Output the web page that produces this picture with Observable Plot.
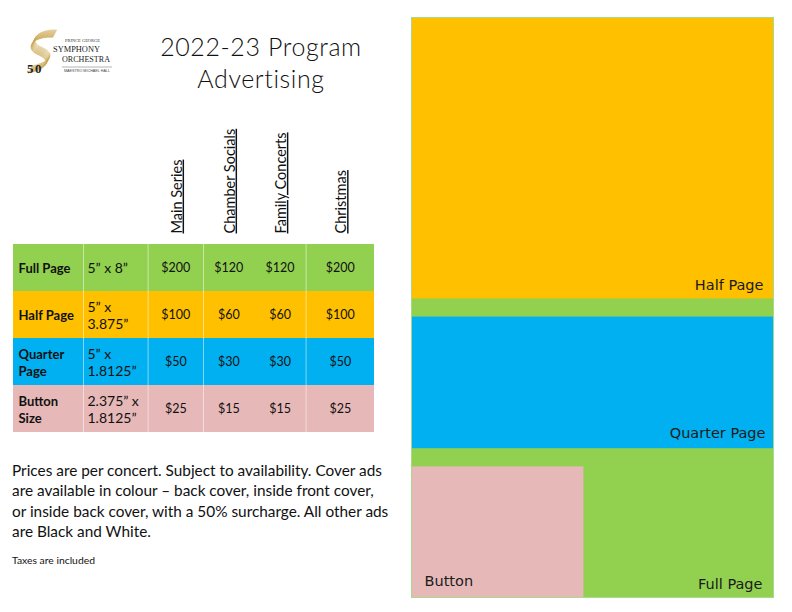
<!DOCTYPE html>
<html>
<head>
<meta charset="utf-8">
<script src="https://cdn.jsdelivr.net/npm/d3@7"></script>
<script src="https://cdn.jsdelivr.net/npm/@observablehq/plot@0.6"></script>
<style>
  html, body { margin: 0; padding: 0; background: #fff; }
  #page { position: relative; width: 792px; height: 612px; overflow: hidden; font-family: Lato, "Open Sans", sans-serif; color: #111; }
  .abs { position: absolute; }
  #logo { left: 20px; top: 28px; overflow: visible; }
  #title { left: 150px; top: 30px; width: 222px; text-align: center; font-family: Lato, sans-serif; font-weight: 300; font-size: 24px; line-height: 32px; letter-spacing: 0.6px; color: #111; white-space: nowrap; }
  #note { left: 12px; top: 460px; font-size: 15px; line-height: 20.3px; white-space: nowrap; color: #111; }
  #note span { display: block; }
  #taxes { left: 12px; top: 553px; font-size: 10px; line-height: 14px; white-space: nowrap; color: #111; }
  #table { left: 12.7px; top: 125px; }
  #diagram { left: 411px; top: 17px; }
</style>
</head>
<body>
<div id="page">
  <svg id="logo" class="abs" width="120" height="52" viewBox="0 0 120 52">
    <g id="swoosh" fill="none" stroke="#c9a44a" stroke-width="0.75"></g>
    <text x="7" y="45" font-family="Liberation Serif, serif" font-weight="bold" font-size="13" letter-spacing="1.5" fill="#222">50</text>
    <text x="45" y="13.5" font-family="Liberation Serif, serif" font-size="4.5" textLength="35" lengthAdjust="spacingAndGlyphs" fill="#333">PRINCE GEORGE</text>
    <text x="33" y="24" font-family="Liberation Serif, serif" font-size="9" textLength="47" lengthAdjust="spacingAndGlyphs" fill="#222">SYMPHONY</text>
    <text x="42" y="34" font-family="Liberation Serif, serif" font-size="9" textLength="48" lengthAdjust="spacingAndGlyphs" fill="#222">ORCHESTRA</text>
    <line x1="42" x2="92" y1="39" y2="39" stroke="#666" stroke-width="0.5"></line>
    <text x="44" y="44" font-family="Liberation Sans, sans-serif" font-size="3.4" textLength="46" lengthAdjust="spacingAndGlyphs" fill="#444">MAESTRO MICHAEL HALL</text>
  </svg>
  <div id="title" class="abs">2022-23 Program<br>Advertising</div>
  <div id="table" class="abs"></div>
  <div id="note" class="abs">
    <span>Prices are per concert. Subject to availability. Cover ads</span>
    <span>are available in colour – back cover, inside front cover,</span>
    <span>or inside back cover, with a 50% surcharge. All other ads</span>
    <span>are Black and White.</span>
  </div>
  <div id="taxes" class="abs">Taxes are included</div>
  <div id="diagram" class="abs"></div>
</div>
<script>
// ---------------- DATA ----------------
const adNames = ["Full Page", "Half Page", "Quarter Page", "Button Size"];
const adWidths = [5, 5, 5, 2.375];          // inches
const adHeights = [8, 3.875, 1.8125, 1.8125]; // inches
const seriesNames = ["Main Series", "Chamber Socials", "Family Concerts", "Christmas"];
const mainSeries = [200, 100, 50, 25];
const chamberSocials = [120, 60, 30, 15];
const familyConcerts = [120, 60, 30, 15];
const christmas = [200, 100, 50, 25];
const diagramLabels = ["Full Page", "Half Page", "Quarter Page", "Button"];

// ---------------- STYLE / LAYOUT ----------------
const adColors = {"Full Page": "#92D050", "Half Page": "#FFC000", "Quarter Page": "#00B0F0", "Button Size": "#E6B8B7"};
const colWidths = [70, 64.6, 55.4, 50.6, 52, 68.4];
const textColor = "#111";

// ---------------- LOGO swoosh (decoration) ----------------
(function () {
  const g = d3.select("#swoosh");
  for (let k = 0; k < 12; k++) {
    g.append("path")
      .attr("d", "M 37 2 C 15 1, 9 14, 21 19 S 36 32, 12 38")
      .attr("transform", `translate(${-k * 0.35},${k * 0.65})`)
      .attr("stroke-opacity", 0.55 + 0.035 * k);
  }
})();

// ---------------- TABLE ----------------
const prices = [mainSeries, chamberSocials, familyConcerts, christmas];
const colEdges = Array.from(d3.cumsum([0, ...colWidths]));
const colCenters = colWidths.map((w, i) => colEdges[i] + w / 2);
const totalW = colEdges[colEdges.length - 1];

const wrapName = s => s.length > 9 ? s.replace(" ", "\n") : s;
const fmtSize = (w, h) => Number.isInteger(h) ? `${w}” x ${h}”` : `${w}” x\n${h}”`;

const tableRows = adNames.map((name, i) => ({name, label: wrapName(name), size: fmtSize(adWidths[i], adHeights[i])}));
const priceCells = adNames.flatMap((name, i) => seriesNames.map((s, j) => ({name, series: s, col: j + 2, value: prices[j][i]})));
const headers = seriesNames.map((s, j) => ({s, col: j + 2}));
const separators = [colEdges[1], colEdges[2], colEdges[3], colEdges[5]];

const tableMarginTop = 118;
const table = Plot.plot({
  width: totalW,
  height: 308,
  marginTop: tableMarginTop, marginBottom: 0, marginLeft: 0, marginRight: 0,
  style: {fontFamily: "Lato, 'Open Sans', sans-serif", background: "transparent", overflow: "visible"},
  x: {domain: [0, totalW], axis: null},
  y: {domain: adNames, padding: 0, axis: null},
  marks: [
    Plot.barX(tableRows, {x1: 0, x2: totalW, y: "name", fill: d => adColors[d.name]}),
    Plot.ruleX(separators, {x: d => d, stroke: "white", strokeOpacity: 0.5, strokeWidth: 1}),
    Plot.text(tableRows, {x: 0, y: "name", text: "label", dx: 5, textAnchor: "start", fontWeight: "bold", fontSize: 13, lineHeight: 1.28, fill: textColor}),
    Plot.text(tableRows, {x: colEdges[1], y: "name", text: "size", dx: 4, textAnchor: "start", fontSize: 14, lineHeight: 1.18, fill: textColor}),
    Plot.text(priceCells, {x: d => colCenters[d.col], y: "name", text: d => `$${d.value}`, fontSize: 12.5, fill: textColor}),
    Plot.text(headers, {x: d => colCenters[d.col], frameAnchor: "top", text: "s", rotate: -90, textAnchor: "start", dy: -10, dx: -4.5, fontSize: 14.5, fill: textColor})
  ]
});
d3.select(table).selectAll("text").filter(function () { return seriesNames.includes(this.textContent); })
  .attr("text-decoration", "underline");
document.getElementById("table").appendChild(table);

// ---------------- PAGE DIAGRAM ----------------
const pageW = adWidths[0], pageH = adHeights[0];
const iHalf = 1, iQuarter = 2, iButton = 3;
const yHalf = 0;
const yButton = pageH - adHeights[iButton];
const yQuarter = (adHeights[iHalf] + yButton - adHeights[iQuarter]) / 2;
const adY0 = [0, yHalf, yQuarter, yButton];
const labelStyle = {
  "Full Page": {anchor: "end", dx: -12, dy: -14},
  "Half Page": {anchor: "end", dx: -11, dy: -14},
  "Quarter Page": {anchor: "end", dx: -9, dy: -15},
  "Button Size": {anchor: "start", dx: 13, dy: -17}
};
const adLayout = adNames.map((name, i) => ({
  name, label: diagramLabels[i], w: adWidths[i], h: adHeights[i], x0: 0, y0: adY0[i], anchor: labelStyle[name].anchor
}));
const labelMarks = adLayout.map(d => Plot.text([d], {
  x: e => e.anchor === "start" ? e.x0 : e.x0 + e.w,
  y: e => e.y0 + e.h,
  text: "label",
  textAnchor: labelStyle[d.name].anchor,
  dx: labelStyle[d.name].dx,
  dy: labelStyle[d.name].dy,
  fontSize: 14.5,
  fontFamily: "DejaVu Sans, Verdana, sans-serif",
  fill: "#1b1b1b"
}));

const diagram = Plot.plot({
  width: 363,
  height: 581,
  margin: 0,
  style: {background: "transparent", overflow: "visible"},
  x: {domain: [0, pageW], axis: null},
  y: {domain: [0, pageH], reverse: true, axis: null},
  marks: [
    Plot.rect(adLayout, {x1: "x0", x2: d => d.x0 + d.w, y1: "y0", y2: d => d.y0 + d.h, fill: d => adColors[d.name]}),
    Plot.rect(adLayout.slice(0, 1), {x1: "x0", x2: d => d.x0 + d.w, y1: "y0", y2: d => d.y0 + d.h, fill: "none", stroke: "#A9D98A", strokeWidth: 1, inset: 0.5}),
    ...labelMarks
  ]
});
document.getElementById("diagram").appendChild(diagram);

// ---------------- fit caption text widths ----------------
(function fit() {
  const note = document.getElementById("note");
  const first = note.querySelector("span");
  const r = document.createRange(); r.selectNodeContents(first);
  const w = r.getBoundingClientRect().width;
  if (w > 0) note.style.fontSize = (15 * 370 / w).toFixed(2) + "px";
  const taxes = document.getElementById("taxes");
  const r2 = document.createRange(); r2.selectNodeContents(taxes);
  const w2 = r2.getBoundingClientRect().width;
  if (w2 > 0) taxes.style.fontSize = (10 * 83 / w2).toFixed(2) + "px";
  const title = document.getElementById("title");
  const t = document.createElement("span"); t.textContent = "2022-23 Program"; t.style.whiteSpace = "nowrap";
  title.insertBefore(t, title.firstChild); title.removeChild(t.nextSibling);
  const r3 = document.createRange(); r3.selectNodeContents(t);
  const w3 = r3.getBoundingClientRect().width;
  if (w3 > 0) { const fs = 24 * 202 / w3; title.style.fontSize = Math.min(fs, 26).toFixed(2) + "px"; }
})();
</script>
</body>
</html>
